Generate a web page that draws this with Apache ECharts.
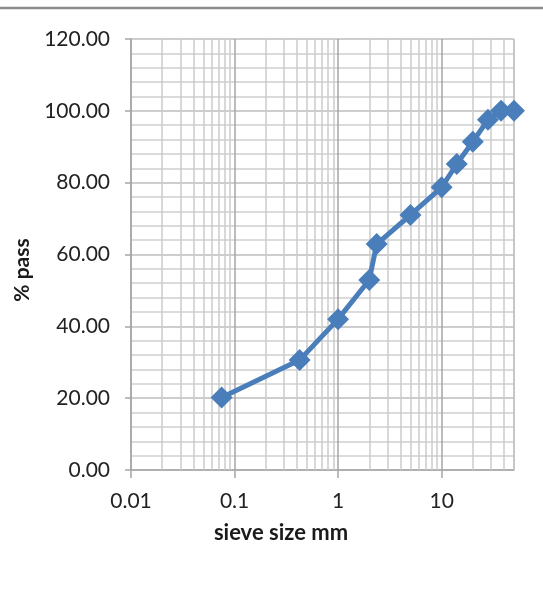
<!DOCTYPE html>
<html>
<head>
<meta charset="utf-8">
<script src="https://cdn.jsdelivr.net/npm/echarts@6/dist/echarts.min.js"></script>
<style>
  html, body { margin: 0; padding: 0; background: #fff; }
  #chart { width: 543px; height: 591px; }
</style>
</head>
<body>
<div id="chart"></div>
<script>
// Sieve analysis: particle size (mm) vs cumulative percentage passing
const sieveSize = [0.075, 0.425, 1, 2, 2.36, 5, 10, 14, 20, 28, 37.5, 50];
const percentPass = [20.2, 30.6, 42.0, 52.9, 62.9, 71.0, 78.7, 85.2, 91.4, 97.5, 100, 100];

// Axis ranges
const xMin = 0.01, xMax = 50;
const yMin = 0, yMax = 120, yStep = 20;

// Axis titles
const xTitle = 'sieve size mm';
const yTitle = '% pass';

// Intermediate log grid values (2..9 within each decade)
const logMinorValues = [];
for (let p = -2; p <= 1; p++) {
  for (let m = 2; m <= 9; m++) {
    const v = +(m * Math.pow(10, p)).toPrecision(3);
    if (v <= xMax) logMinorValues.push(v);
  }
}

const FONT = 'Lato, "Open Sans", sans-serif';
const chart = echarts.init(document.getElementById('chart'), null, { renderer: 'canvas' });

chart.setOption({
  animation: false,
  backgroundColor: '#ffffff',
  grid: { left: 131, top: 39, width: 383, height: 431, containLabel: false },
  xAxis: {
    type: 'log',
    logBase: 10,
    min: xMin,
    max: xMax,
    axisLine: { show: true, lineStyle: { color: '#a6a6a6', width: 1.5 } },
    axisTick: { show: true, length: 8, lineStyle: { color: '#a6a6a6', width: 1.5 } },
    axisLabel: {
      show: true, margin: 21, color: '#222222',
      fontFamily: FONT, fontSize: 21, showMaxLabel: false,
      formatter: v => String(+v.toPrecision(3))
    },
    splitLine: { show: true, lineStyle: { color: '#a6a6a6', width: 1.5 } }
  },
  yAxis: {
    type: 'value',
    min: yMin,
    max: yMax,
    interval: yStep,
    axisLine: { show: true, lineStyle: { color: '#a6a6a6', width: 1.5 } },
    axisTick: { show: true, length: 6, lineStyle: { color: '#a6a6a6', width: 1.5 } },
    axisLabel: {
      margin: 21, color: '#222222', fontFamily: FONT, fontSize: 21,
      formatter: v => v.toFixed(2)
    },
    splitLine: { show: true, lineStyle: { color: '#bdbdbd', width: 1.5 } },
    minorTick: { show: false, splitNumber: 5 },
    minorSplitLine: { show: true, lineStyle: { color: '#cfcfcf', width: 1.5 } }
  },
  series: [
    {
      type: 'line',
      data: [],
      z: 1,
      silent: true,
      markLine: {
        silent: true,
        symbol: ['none', 'none'],
        label: { show: false },
        lineStyle: { color: '#cbcbcb', width: 1.5, type: 'solid' },
        data: logMinorValues.map(v => ({ xAxis: v }))
      }
    },
    {
      type: 'line',
      z: 5,
      data: sieveSize.map((x, i) => [x, percentPass[i]]),
      symbol: 'diamond',
      symbolSize: 22,
      lineStyle: { color: '#4a7ebb', width: 5 },
      itemStyle: { color: '#4a7ebb' }
    }
  ],
  graphic: [
    {
      type: 'line',
      shape: { x1: 0, y1: 8, x2: 543, y2: 8 },
      style: { stroke: '#8c8c8c', lineWidth: 2.5 }
    },
    {
      type: 'text',
      x: 281, y: 533,
      style: {
        text: xTitle,
        textAlign: 'center', textVerticalAlign: 'middle',
        font: 'bold 22px ' + FONT, fill: '#1a1a1a'
      }
    },
    {
      type: 'text',
      x: 22, y: 270,
      rotation: Math.PI / 2,
      style: {
        text: yTitle,
        textAlign: 'center', textVerticalAlign: 'middle',
        font: 'bold 21px ' + FONT, fill: '#1a1a1a'
      }
    }
  ]
});
</script>
</body>
</html>
